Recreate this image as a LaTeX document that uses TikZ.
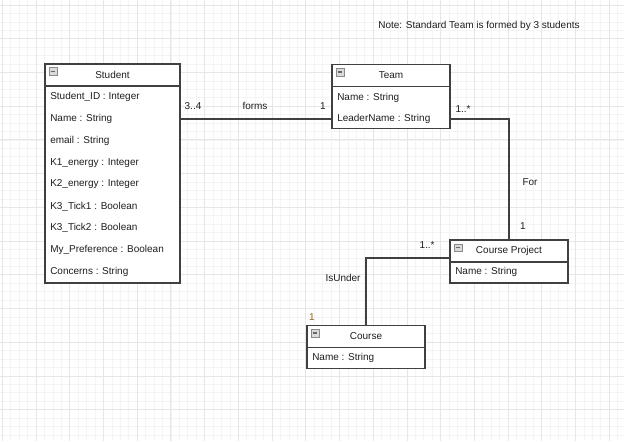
\documentclass[tikz,border=0pt]{standalone}
\usepackage{fontspec}
\setmainfont{Liberation Sans}
\usetikzlibrary{positioning}
\definecolor{ink}{HTML}{1E1E1E}
\definecolor{edge}{HTML}{404040}
\definecolor{gridmaj}{HTML}{E6E6E6}
\definecolor{gridmin}{HTML}{F4F4F4}
\definecolor{knob}{HTML}{8A8A8A}
\definecolor{knobfill}{HTML}{DADADA}
\definecolor{ochre}{HTML}{8C6A1C}

\begin{document}
\begin{tikzpicture}[
  x=0.025cm, y=-0.025cm,
  font=\fontsize{7.1}{8.5}\selectfont, text=ink,
  hdr/.style={draw=edge,line width=0.8pt,fill=white,minimum width=2.95cm,minimum height=0.55cm,inner sep=0pt,outer sep=0pt},
  body/.style={draw=edge,line width=0.8pt,fill=white,minimum width=2.95cm,inner sep=0pt,outer sep=0pt},
  attr/.style={anchor=west,inner sep=0pt},
  icon/.style={draw=knob,fill=knobfill,line width=0.4pt,minimum size=5.4pt,inner sep=0pt,anchor=north west,
    path picture={\draw[edge!80,line width=1.1pt] ([xshift=1pt]path picture bounding box.west) -- ([xshift=-1pt]path picture bounding box.east);}},
  assoc/.style={draw=edge,line width=0.8pt},
  mult/.style={inner sep=1pt}
]
\useasboundingbox[fill=white] (0,0) rectangle (624,441);

% background grid
\foreach \i in {0,...,74} \draw[gridmin,line width=0.5pt] ({2.3+8.43*\i},0) -- ({2.3+8.43*\i},441);
\foreach \j in {0,...,52} \draw[gridmin,line width=0.5pt] (0,{5+8.43*\j}) -- (624,{5+8.43*\j});
\foreach \i in {0,...,18} \draw[gridmaj,line width=0.6pt] ({2.3+33.72*\i},0) -- ({2.3+33.72*\i},441);
\foreach \j in {0,...,13} \draw[gridmaj,line width=0.6pt] (0,{5+33.72*\j}) -- (624,{5+33.72*\j});

\node (note) at (479,26) {Note: Standard Team is formed by 3 students};

% Student
\node[hdr,minimum width=3.375cm] (stuH) at (112.5,75) {Student};
\node[body,minimum width=3.375cm,minimum height=4.925cm,below=0pt of stuH] (stu) {};
\node[icon] (stuI) at ([shift={(4,3.5)}]stuH.north west) {};
\foreach \t [count=\k] in {Student\_ID : Integer,Name : String,email : String,K1\_energy : Integer,
    K2\_energy : Integer,K3\_Tick1 : Boolean,K3\_Tick2 : Boolean,My\_Preference : Boolean,Concerns : String}
  \node[attr] (stu\k) at (50,{97+21.875*(\k-1)}) {\t};

% Team
\node[hdr] (teamH) at (391,75.5) {Team};
\node[body,minimum height=1.05cm,below=0pt of teamH] (team) {};
\node[icon] (teamI) at ([shift={(4,3.5)}]teamH.north west) {};
\node[attr] (team1) at (337,98) {Name : String};
\node[attr] (team2) at (337,119) {LeaderName : String};

% Course Project
\node[hdr] (cpH) at (509,251) {Course Project};
\node[body,minimum height=0.525cm,below=0pt of cpH] (cp) {};
\node[icon] (cpI) at ([shift={(4,3.5)}]cpH.north west) {};
\node[attr] (cp1) at (455,272) {Name : String};

% Course
\node[hdr] (crsH) at (366,336.5) {Course};
\node[body,minimum height=0.525cm,below=0pt of crsH] (crs) {};
\node[icon] (crsI) at ([shift={(4,3.5)}]crsH.north west) {};
\node[attr] (crs1) at (312,358) {Name : String};

% associations
\draw[assoc] (team2 -| stu.east) -- (team2 -| team.west);
\node[mult] (m34) at (193,106) {3..4};
\node[mult] (forms) at (255,106) {forms};
\node[mult] (m1a) at (323,106) {1};

\draw[assoc] (team2 -| team.east) -| (cpH.north);
\node[mult] (m1n) at (463,109) {1..*};
\node[mult] (for) at (530,182) {For};
\node[mult] (m1b) at (523,226) {1};

\draw[assoc] ([yshift=-5pt]cpH.west) -| (crsH.north);
\node[mult] (m1m) at (427,245) {1..*};
\node[mult] (isunder) at (343,278) {IsUnder};
\node[mult,text=ochre] (m1c) at (312,317) {1};
\end{tikzpicture}
\end{document}
